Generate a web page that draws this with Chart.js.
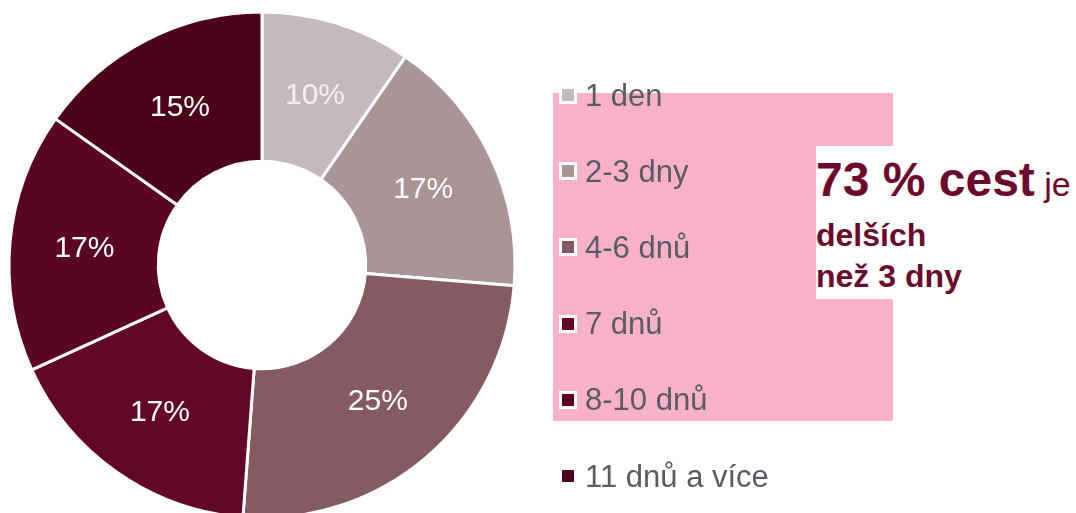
<!DOCTYPE html>
<html>
<head>
<meta charset="utf-8">
<script src="https://cdn.jsdelivr.net/npm/chart.js@4/dist/chart.umd.min.js"></script>
<style>
  html, body { margin: 0; padding: 0; width: 1076px; height: 513px; overflow: hidden; background: #ffffff; }
  body { position: relative; font-family: "Liberation Sans", Arial, sans-serif; }
  #pink { position: absolute; left: 553px; top: 93px; width: 340px; height: 328px; background: #F9B1CA; }
  #wrap { position: absolute; left: 0; top: 0; width: 1076px; height: 513px; }
  #legend { position: absolute; left: 0; top: 0; }
  .item { position: absolute; left: 559px; height: 31px; display: flex; align-items: center; white-space: nowrap; }
  .box { width: 12px; height: 12px; border: 3px solid #ffffff; box-sizing: content-box; }
  .lbl { font-size: 31px; line-height: 31px; color: #595C62; margin-left: 8px; }
  #note { position: absolute; left: 816px; top: 146px; width: 260px; height: 153px; background: #ffffff; color: #6B0A2B; }
  .l1 { position: absolute; left: 0px; top: 10px; font-size: 48px; line-height: 48px; font-weight: bold; white-space: nowrap; }
  .l1 span { font-size: 34px; font-weight: normal; }
  .l2 { position: absolute; left: 0px; font-size: 32px; line-height: 32px; font-weight: bold; white-space: nowrap; }
</style>
</head>
<body>
<div id="pink"></div>
<div id="wrap"><canvas id="c" width="1076" height="513"></canvas></div>
<div id="legend"></div>
<div id="note">
  <div class="l1">73 % cest<span> je</span></div>
  <div class="l2" style="top:73px">delších</div>
  <div class="l2" style="top:114px">než 3 dny</div>
</div>
<script>
const categories = ["1 den", "2-3 dny", "4-6 dnů", "7 dnů", "8-10 dnů", "11 dnů a více"];
const shares = [9.6, 16.7, 24.9, 17.0, 16.6, 15.2];
const colors = ["#C5B9BB", "#A99597", "#845B62", "#620826", "#5A0521", "#4C0219"];

// legend built from the arrays
const legendEl = document.getElementById('legend');
const legendTop = 95, legendStep = 76.2;
categories.forEach((name, i) => {
  const it = document.createElement('div');
  it.className = 'item';
  it.style.top = (legendTop + i * legendStep - 15.5) + 'px';
  const b = document.createElement('span');
  b.className = 'box';
  b.style.background = colors[i];
  const t = document.createElement('span');
  t.className = 'lbl';
  t.textContent = name;
  it.appendChild(b); it.appendChild(t);
  legendEl.appendChild(it);
});

const pctLabels = {
  id: 'pctLabels',
  afterDatasetsDraw(chart) {
    const ctx = chart.ctx;
    const meta = chart.getDatasetMeta(0);
    const data = chart.data.datasets[0].data;
    ctx.save();
    ctx.font = '30px "Liberation Sans", Arial, sans-serif';
    ctx.textAlign = 'center';
    ctx.textBaseline = 'middle';
    meta.data.forEach((arc, i) => {
      const p = arc.tooltipPosition();
      ctx.fillStyle = i === 0 ? '#F4F1F1' : '#FFFFFF';
      ctx.fillText(Math.round(data[i]) + '%', p.x, p.y + 1);
    });
    ctx.restore();
  }
};

new Chart(document.getElementById('c'), {
  type: 'doughnut',
  data: {
    labels: categories,
    datasets: [{
      data: shares,
      backgroundColor: colors,
      borderColor: '#FFFFFF',
      borderWidth: 3,
      clip: false
    }]
  },
  options: {
    responsive: false,
    animation: false,
    radius: 253,
    cutout: '41%',
    layout: { padding: { left: 0, right: 552, top: 17, bottom: 0 } },
    plugins: { legend: { display: false }, tooltip: { enabled: false } }
  },
  plugins: [pctLabels]
});
</script>
</body>
</html>
